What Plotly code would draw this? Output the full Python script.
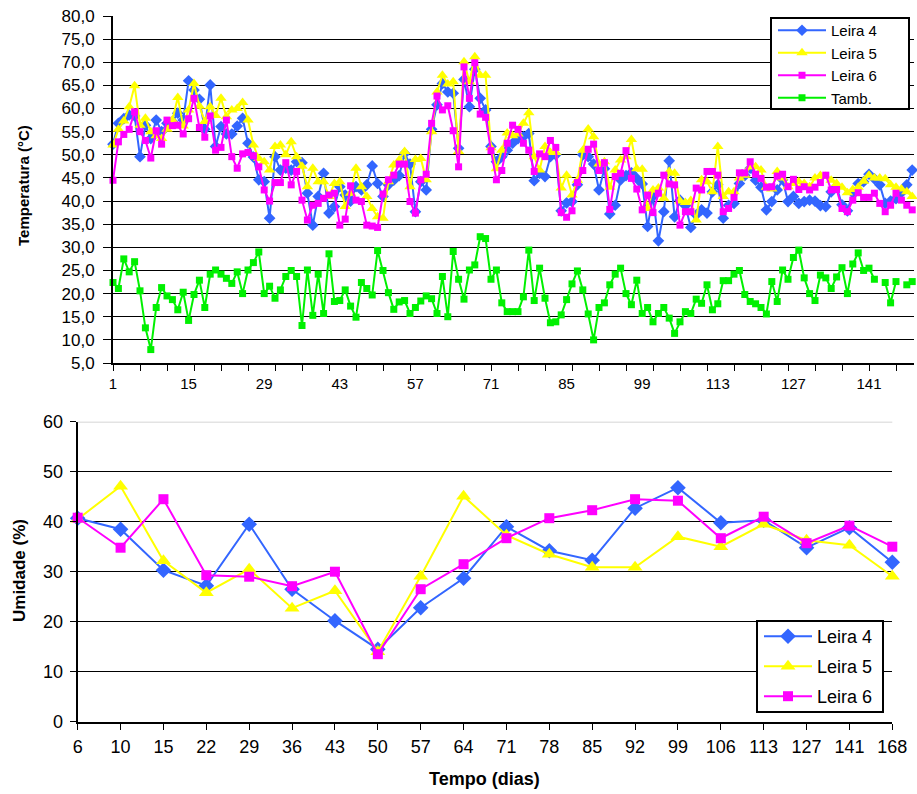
import plotly.graph_objects as go

# ---- Temperatura diária (°C) das leiras e do ambiente ----
dias = list(range(1, 150))

leira4 = [52.3, 56.8, 57.8, 58.6, 58.4, 49.6, 56.4, 53.5, 57.5, 55.0, 56.8, 57.2, 59.0, 57.5, 66.0, 64.0, 62.0, 55.5, 65.1,
          51.8, 56.1, 54.5, 54.5, 56.2, 57.9, 52.5, 49.5, 44.6, 44.2, 36.3, 49.6, 46.7, 47.1, 46.7, 48.5, 48.3, 41.7,
          34.8, 41.0, 46.0, 37.4, 38.8, 43.1, 41.3, 40.0, 43.1, 42.4, 43.5, 47.6, 43.8, 41.0, 43.5, 44.5, 45.5, 50.3, 48.0,
          37.7, 44.2, 42.4, 55.5, 60.8, 65.4, 63.6, 63.3, 51.4, 66.3, 60.4, 68.5, 62.2, 59.7, 51.8, 48.5, 49.6, 51.0,
          52.5, 53.5, 53.9, 54.6, 44.4, 46.0, 45.3, 49.6, 50.0, 37.9, 39.6, 39.9, 43.5, 50.0, 49.6, 48.0, 42.4, 47.0, 37.2,
          39.1, 44.6, 45.5, 46.1, 44.9, 43.7, 34.5, 41.0, 31.4, 37.7, 48.7, 36.6, 40.2, 39.0, 34.3, 37.0, 38.1, 37.4, 42.0,
          43.5, 36.3, 39.1, 39.5, 43.8, 45.5, 47.1, 44.5, 43.0, 38.1, 39.9, 42.4, 44.6, 39.9, 41.0, 39.5, 39.9, 40.2,
          40.0, 39.0, 38.8, 42.0, 43.1, 39.2, 37.9, 41.8, 43.8, 44.2, 45.8, 44.8, 43.5, 39.5, 40.0, 40.5, 41.8, 43.5, 46.7]

leira5 = [52.1, 55.5, 57.3, 60.4, 64.9, 56.4, 57.9, 55.0, 54.1, 53.5, 55.5, 57.5, 62.4, 56.2, 59.7, 65.4, 60.5, 57.2, 60.4,
          58.5, 62.2, 58.2, 59.7, 60.0, 61.3, 57.5, 52.1, 49.2, 48.5, 46.7, 51.8, 52.1, 50.0, 52.8, 49.6, 47.5, 43.1,
          47.1, 44.2, 44.2, 41.0, 43.8, 44.2, 38.8, 41.7, 47.1, 43.1, 41.0, 38.4, 36.6, 36.3, 44.2, 47.8, 48.9, 50.7, 43.1,
          49.0, 49.2, 44.6, 55.0, 63.6, 67.2, 65.3, 65.8, 50.7, 70.1, 65.8, 71.2, 67.2, 67.2, 51.5, 47.0, 51.0, 54.7,
          54.1, 54.5, 56.8, 59.1, 49.6, 46.7, 51.8, 50.5, 50.5, 42.8, 45.6, 41.3, 44.5, 51.0, 55.6, 53.9, 48.0, 48.5, 43.0,
          46.7, 48.9, 49.6, 53.3, 47.0, 46.9, 38.4, 42.4, 42.8, 40.6, 46.4, 46.0, 40.0, 39.7, 40.1, 35.9, 44.6, 44.2, 42.0,
          51.8, 41.0, 42.0, 42.0, 45.0, 45.6, 47.4, 47.4, 46.7, 43.0, 42.6, 46.4, 45.0, 43.1, 43.8, 44.2, 43.8, 43.1,
          45.0, 45.5, 45.3, 44.5, 43.8, 43.0, 41.8, 42.5, 43.0, 44.3, 45.6, 45.0, 45.0, 44.8, 43.5, 43.0, 42.6, 42.0, 41.0]

leira6 = [44.5, 52.8, 54.4, 55.5, 59.3, 55.0, 53.1, 49.3, 55.2, 52.3, 57.5, 56.3, 56.4, 54.5, 57.8, 62.2, 55.9, 53.8, 58.4,
          51.0, 51.6, 57.5, 49.6, 47.1, 50.2, 50.5, 49.8, 47.4, 42.4, 40.0, 44.0, 44.0, 48.3, 43.5, 46.4, 40.2, 35.9,
          39.1, 39.5, 40.6, 41.3, 41.7, 34.8, 36.1, 43.3, 40.2, 39.9, 34.8, 34.6, 34.3, 41.5, 44.6, 45.6, 48.0, 48.0, 39.9,
          37.4, 44.6, 45.8, 56.8, 62.7, 59.7, 60.6, 55.2, 47.4, 69.0, 62.2, 69.9, 58.8, 58.1, 50.9, 44.6, 46.6, 52.5,
          56.4, 55.5, 52.5, 51.0, 46.4, 50.2, 49.6, 53.1, 51.6, 37.5, 36.5, 37.9, 44.0, 46.6, 51.2, 52.3, 46.6, 48.3, 38.2,
          45.3, 46.0, 50.9, 44.9, 42.6, 38.1, 41.3, 37.5, 41.7, 45.6, 43.7, 43.5, 34.8, 37.7, 37.7, 42.8, 42.4, 46.4, 46.4,
          45.6, 37.7, 38.4, 40.8, 46.1, 46.1, 48.5, 45.8, 44.9, 43.0, 43.1, 45.4, 45.8, 43.1, 44.7, 42.5, 43.1, 42.4,
          43.0, 44.0, 45.6, 42.4, 42.5, 38.4, 37.7, 40.2, 41.8, 40.8, 40.8, 41.7, 39.5, 37.7, 39.1, 41.7, 40.2, 39.1, 38.1]

tamb = [22.4, 21.1, 27.5, 24.7, 26.9, 20.6, 12.6, 7.9, 17.0, 21.3, 19.5, 18.7, 16.5, 20.3, 14.2, 19.8, 22.9, 17.0, 24.2,
        25.1, 24.2, 23.3, 22.2, 24.7, 20.0, 25.1, 26.7, 29.0, 20.0, 21.6, 19.0, 20.8, 23.7, 25.0, 23.7, 13.1, 25.1,
        15.3, 24.2, 15.7, 28.6, 18.3, 18.5, 20.8, 17.3, 14.9, 22.4, 21.1, 19.7, 29.3, 25.0, 20.2, 16.6, 18.2, 18.5, 15.7,
        17.0, 18.4, 19.5, 18.9, 15.7, 23.7, 15.0, 29.1, 23.1, 18.8, 25.1, 26.2, 32.3, 31.9, 23.1, 25.1, 18.0, 16.1,
        16.1, 16.1, 19.3, 29.4, 18.5, 25.5, 19.0, 13.7, 13.9, 15.4, 18.7, 22.1, 24.9, 20.8, 15.6, 10.0, 17.0, 18.0, 21.9,
        24.2, 25.5, 20.0, 17.6, 22.9, 15.7, 17.0, 13.9, 15.7, 17.0, 14.7, 11.4, 13.9, 16.1, 15.7, 18.8, 17.9, 21.9, 16.5,
        17.8, 22.8, 22.8, 24.2, 25.0, 19.8, 18.3, 17.8, 17.0, 15.6, 22.6, 18.3, 25.1, 23.1, 27.8, 29.4, 23.4, 20.0,
        18.5, 24.0, 23.4, 21.1, 23.6, 25.6, 20.0, 26.4, 28.8, 25.0, 25.5, 23.1, None, 22.4, 18.0, 22.6, None, 21.9, 22.6]

dias_rotulo = [1, 15, 29, 43, 57, 71, 85, 99, 113, 127, 141]
temp_ticks = [5, 10, 15, 20, 25, 30, 35, 40, 45, 50, 55, 60, 65, 70, 75, 80]

# ---- Umidade (%) nas datas de coleta ----
coletas = ["6", "10", "15", "22", "29", "36", "43", "50", "57", "64",
           "71", "78", "85", "92", "99", "106", "113", "127", "141", "168"]
umid4 = [40.7, 38.5, 30.3, 27.2, 39.5, 26.5, 20.2, 14.5, 22.8, 28.7,
         39.0, 34.2, 32.3, 42.7, 46.8, 39.8, 40.3, 34.8, 38.8, 31.9]
umid5 = [40.5, 47.1, 32.2, 25.8, 30.5, 22.7, 26.2, 14.0, 29.1, 45.1,
         37.3, 33.5, 30.9, 30.9, 37.0, 35.0, 39.5, 36.3, 35.3, 29.1]
umid6 = [40.8, 34.8, 44.5, 29.3, 29.0, 27.1, 30.0, 13.5, 26.5, 31.5,
         36.7, 40.7, 42.3, 44.5, 44.2, 36.7, 41.0, 35.7, 39.2, 35.0]

W, H = 917, 794
AZUL, AMARELO, MAGENTA, VERDE = "#3366FF", "#FFFF00", "#FF00FF", "#00F000"
FONTE = "Liberation Sans, Arial, sans-serif"


def fx(px):
    return px / W


def fy(py):
    return 1 - py / H


fig = go.Figure()

# painel superior: temperatura
estilo_temp = [
    ("Leira 4", leira4, AZUL, "diamond", 9),
    ("Leira 5", leira5, AMARELO, "triangle-up", 10),
    ("Leira 6", leira6, MAGENTA, "square", 7),
    ("Tamb.", tamb, VERDE, "square", 7),
]
for nome, serie, cor, simbolo, tam in estilo_temp:
    fig.add_trace(go.Scatter(
        x=dias, y=serie, name=nome, mode="lines+markers",
        line=dict(color=cor, width=2),
        marker=dict(symbol=simbolo, size=tam, color=cor, line=dict(width=0)),
        xaxis="x", yaxis="y", legend="legend", cliponaxis=False,
        connectgaps=False,
    ))

# painel inferior: umidade
estilo_umid = [
    ("Leira 4", umid4, AZUL, "diamond", 12),
    ("Leira 5", umid5, AMARELO, "triangle-up", 13),
    ("Leira 6", umid6, MAGENTA, "square", 10),
]
for nome, serie, cor, simbolo, tam in estilo_umid:
    fig.add_trace(go.Scatter(
        x=coletas, y=serie, name=nome, mode="lines+markers",
        line=dict(color=cor, width=2),
        marker=dict(symbol=simbolo, size=tam, color=cor, line=dict(width=0)),
        xaxis="x2", yaxis="y2", legend="legend2", legendgroup=nome,
        cliponaxis=False,
    ))

px_dia = 5.40
SEM_FUNDO = "rgba(0,0,0,0)"
fig.update_layout(
    width=W, height=H,
    margin=dict(l=0, r=0, t=0, b=0, autoexpand=False),
    paper_bgcolor="white", plot_bgcolor="white",
    font=dict(family=FONTE, color="black"),
    xaxis=dict(
        domain=[fx(113), fx(914)], anchor="y", automargin=False,
        range=[1, 1 + (914 - 113) / px_dia],
        tickmode="array", tickvals=dias_rotulo, ticktext=[str(d) for d in dias_rotulo],
        ticks="", tickfont=dict(size=15), ticklabelstandoff=6,
        showgrid=False, zeroline=False,
        showline=True, linecolor="black", linewidth=2,
        minor=dict(tick0=1, dtick=5, ticks="outside", ticklen=6, tickcolor="black",
                   tickwidth=1, showgrid=False),
    ),
    yaxis=dict(
        domain=[fy(363), fy(16)], anchor="x", automargin=False,
        range=[5, 80], tickmode="array", tickvals=temp_ticks,
        ticktext=[f"{v:.1f}".replace(".", ",") for v in temp_ticks],
        ticks="outside", ticklen=8, tickcolor="black", tickfont=dict(size=17),
        ticklabelstandoff=5,
        showgrid=True, gridcolor="black", gridwidth=1, zeroline=False,
        showline=True, linecolor="black", linewidth=2,
    ),
    xaxis2=dict(
        domain=[fx(77.7), fx(892.3)], anchor="y2", type="category", automargin=False,
        range=[0, len(coletas) - 1],
        ticks="outside", ticklen=6, tickcolor="black", tickfont=dict(size=18),
        ticklabelstandoff=2,
        showgrid=False, zeroline=False,
        showline=True, linecolor="black", linewidth=2,
    ),
    yaxis2=dict(
        domain=[fy(721.7), fy(421.7)], anchor="x2", automargin=False,
        range=[0, 60], dtick=10,
        ticks="outside", ticklen=6, tickcolor="black", tickfont=dict(size=18),
        ticklabelstandoff=3,
        showgrid=True, gridcolor="black", gridwidth=1, zeroline=False,
        showline=True, linecolor="black", linewidth=2,
    ),
    legend=dict(
        x=fx(773), y=fy(14), xanchor="left", yanchor="top",
        bgcolor=SEM_FUNDO, borderwidth=0,
        font=dict(size=15, family=FONTE), itemwidth=48,
    ),
    legend2=dict(
        x=fx(759), y=fy(618), xanchor="left", yanchor="top",
        bgcolor=SEM_FUNDO, borderwidth=0,
        font=dict(size=18, family=FONTE), itemwidth=48,
        traceorder="grouped", tracegroupgap=3.6,
    ),
    shapes=[
        dict(type="line", xref="x2 domain", yref="y2", x0=0, x1=1, y0=60, y1=60,
             line=dict(color="#C8C8C8", width=1.5), layer="above"),
        # molduras das legendas
        dict(type="rect", xref="paper", yref="paper",
             x0=fx(771), x1=fx(909), y0=fy(109), y1=fy(18),
             fillcolor="white", line=dict(color="black", width=2), layer="above"),
        dict(type="rect", xref="paper", yref="paper",
             x0=fx(757), x1=fx(883), y0=fy(712), y1=fy(621),
             fillcolor="white", line=dict(color="black", width=2), layer="above"),
    ],
    annotations=[
        dict(text="<b>Temperatura (°C)</b>", x=fx(23), y=fy(186), xref="paper", yref="paper",
             xanchor="center", yanchor="middle",
             textangle=-90, showarrow=False, font=dict(size=15, family=FONTE)),
        dict(text="<b>Umidade (%)</b>", x=fx(19), y=fy(571), xref="paper", yref="paper",
             xanchor="center", yanchor="middle",
             textangle=-90, showarrow=False, font=dict(size=17, family=FONTE)),
        dict(text="<b>Tempo (dias)</b>", x=fx(485), y=fy(779), xref="paper", yref="paper",
             xanchor="center", yanchor="middle",
             showarrow=False, font=dict(size=18, family=FONTE)),
    ],
)

fig.write_html("out.html")
